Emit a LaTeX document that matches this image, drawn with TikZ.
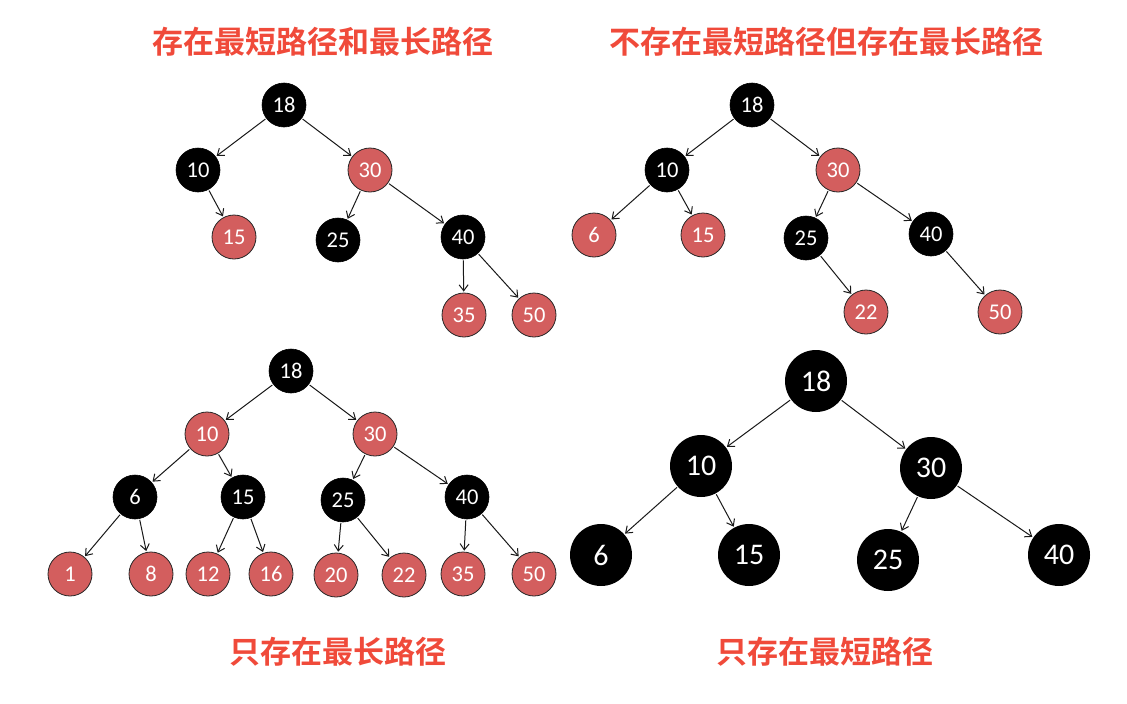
\documentclass[tikz,border=0pt]{standalone}
\usepackage{fontspec}
\setmainfont{Carlito}
\newfontfamily\cjk{Noto Sans CJK SC}[BoldFont={* Bold}]
\usetikzlibrary{arrows.meta}
\definecolor{rbred}{HTML}{D35E5E}
\definecolor{ttlred}{HTML}{F04A3A}
\tikzset{
  bn/.style={circle,fill=black,draw=black,line width=0.6pt,minimum size=44pt,inner sep=0pt,text=white,font=\fontsize{22.5}{24}\selectfont},
  rn/.style={circle,fill=rbred,draw=black!85,line width=0.8pt,minimum size=44pt,inner sep=0pt,text=white,font=\fontsize{22.5}{24}\selectfont},
  bigbn/.style={circle,fill=black,minimum size=62pt,inner sep=0pt,text=white,font=\fontsize{30}{32}\selectfont},
  edge/.style={-{Straight Barb[length=6pt,width=9pt]},line width=1pt,draw=black!90,shorten >=1pt,shorten <=1pt},
  ttl/.style={text=ttlred,font=\cjk\bfseries\fontsize{31}{33}\selectfont}
}
\begin{document}
\begin{tikzpicture}[x=1pt,y=-1pt]
\useasboundingbox (0,0) rectangle (1127,704);
% titles
\node[ttl] (t1) at (323,42) {存在最短路径和最长路径};
\node[ttl] (t2) at (826,42) {不存在最短路径但存在最长路径};
\node[ttl] (t3) at (338,652) {只存在最长路径};
\node[ttl] (t4) at (825,652) {只存在最短路径};
% tree A
\node[bn] (a18) at (284,105) {18};
\node[bn] (a10) at (198,170) {10};
\node[rn] (a30) at (370,170) {30};
\node[rn] (a15) at (234,237) {15};
\node[bn] (a25) at (338,240) {25};
\node[bn] (a40) at (463,237) {40};
\node[rn] (a35) at (464,315) {35};
\node[rn] (a50) at (534,315) {50};
\draw[edge] (a18) -- (a10);
\draw[edge] (a18) -- (a30);
\draw[edge] (a10) -- (a15);
\draw[edge] (a30) -- (a25);
\draw[edge] (a30) -- (a40);
\draw[edge] (a40) -- (a35);
\draw[edge] (a40) -- (a50);
% tree B
\node[bn] (b18) at (752,105) {18};
\node[bn] (b10) at (667,170) {10};
\node[rn] (b30) at (838,170) {30};
\node[rn] (b6) at (594,235) {6};
\node[rn] (b15) at (703,235) {15};
\node[bn] (b25) at (806,238) {25};
\node[bn] (b40) at (931,234) {40};
\node[rn] (b22) at (866,312) {22};
\node[rn] (b50) at (1000,312) {50};
\draw[edge] (b18) -- (b10);
\draw[edge] (b18) -- (b30);
\draw[edge] (b10) -- (b6);
\draw[edge] (b10) -- (b15);
\draw[edge] (b30) -- (b25);
\draw[edge] (b30) -- (b40);
\draw[edge] (b25) -- (b22);
\draw[edge] (b40) -- (b50);
% tree C
\node[bn] (c18) at (291,371) {18};
\node[rn] (c10) at (207,434) {10};
\node[rn] (c30) at (375,434) {30};
\node[bn] (c6) at (135,497) {6};
\node[bn] (c15) at (243,497) {15};
\node[bn] (c25) at (343,500) {25};
\node[bn] (c40) at (467,497) {40};
\node[rn] (c1) at (70,574) {1};
\node[rn] (c8) at (151,574) {8};
\node[rn] (c12) at (208,574) {12};
\node[rn] (c16) at (271,574) {16};
\node[rn] (c20) at (336,575) {20};
\node[rn] (c22) at (404,575) {22};
\node[rn] (c35) at (463,574) {35};
\node[rn] (c50) at (534,574) {50};
\draw[edge] (c18) -- (c10);
\draw[edge] (c18) -- (c30);
\draw[edge] (c10) -- (c6);
\draw[edge] (c10) -- (c15);
\draw[edge] (c30) -- (c25);
\draw[edge] (c30) -- (c40);
\draw[edge] (c6) -- (c1);
\draw[edge] (c6) -- (c8);
\draw[edge] (c15) -- (c12);
\draw[edge] (c15) -- (c16);
\draw[edge] (c25) -- (c20);
\draw[edge] (c25) -- (c22);
\draw[edge] (c40) -- (c35);
\draw[edge] (c40) -- (c50);
% tree D
\node[bigbn] (d18) at (816,381) {18};
\node[bigbn] (d10) at (701,466) {10};
\node[bigbn] (d30) at (931,468) {30};
\node[bigbn] (d6) at (601,555) {6};
\node[bigbn] (d15) at (749,555) {15};
\node[bigbn] (d25) at (888,560) {25};
\node[bigbn] (d40) at (1059,555) {40};
\draw[edge] (d18) -- (d10);
\draw[edge] (d18) -- (d30);
\draw[edge] (d10) -- (d6);
\draw[edge] (d10) -- (d15);
\draw[edge] (d30) -- (d25);
\draw[edge] (d30) -- (d40);
\end{tikzpicture}
\end{document}
